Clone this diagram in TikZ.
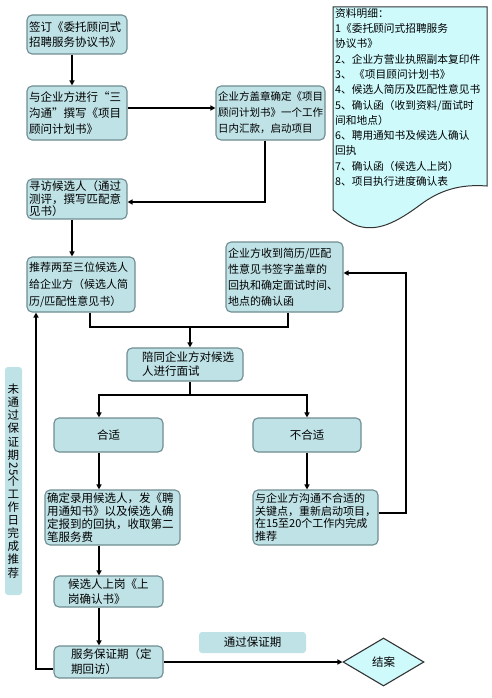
\documentclass[tikz,border=0pt]{standalone}
\usepackage{fontspec}
\usepackage{graphicx}
\newfontfamily\cjk{Noto Sans CJK SC}
\newcommand\myvtxtfont{\cjk\fontsize{11.5}{13.1}\selectfont\lineskiplimit=-30pt\relax\lineskip=0pt\relax}
\usetikzlibrary{arrows.meta,shapes.geometric}
\definecolor{boxfill}{HTML}{BFE2E6}
\definecolor{boxline}{HTML}{6E8C91}
\definecolor{docfill}{HTML}{CEFAFC}
\definecolor{dialine}{HTML}{333333}
\begin{document}
\begin{tikzpicture}[x=1pt,y=-1pt,
 box/.style={draw=boxline, fill=boxfill, rounded corners=5pt, line width=1.1pt, inner sep=2pt, align=left},
 tag/.style={fill=boxfill, rounded corners=3pt, inner sep=0pt, align=center},
 arr/.style={line width=1.6pt, -{Triangle[length=5pt,width=5pt]}},
 ln/.style={line width=1.6pt}]
\useasboundingbox (0,0) rectangle (492,698);

% boxes
\node[box, text width=96pt, minimum height=39pt, font=\cjk\fontsize{11.5}{15}\selectfont] (A) at (77,34.5) {签订《委托顾问式\\招聘服务协议书》};
\node[box, text width=96pt, minimum height=54pt, font=\cjk\fontsize{11.5}{16}\selectfont] (B) at (77,113) {与企业方进行“三\\沟通”撰写《项目\\顾问计划书》};
\node[box, text width=105pt, minimum height=54pt, font=\cjk\fontsize{10.5}{16}\selectfont] (C) at (270.5,113) {企业方盖章确定《项目\\顾问计划书》一个工作\\日内汇款，启动项目};
\node[box, text width=96pt, minimum height=38pt, font=\cjk\fontsize{11.5}{12.5}\selectfont] (D) at (77,199) {寻访候选人（通过\\测评，撰写匹配意\\见书）};
\node[box, text width=104pt, minimum height=55pt, font=\cjk\fontsize{11}{17}\selectfont] (E) at (81,284.5) {推荐两至三位候选人\\给企业方（候选人简\\历/匹配性意见书）};
\node[box, text width=113pt, minimum height=70pt, font=\cjk\fontsize{11}{16}\selectfont] (F) at (284.5,277) {企业方收到简历/匹配\\性意见书签字盖章的\\回执和确定面试时间、\\地点的确认函};
\node[box, text width=112pt, minimum height=33pt, font=\cjk\fontsize{11.5}{14}\selectfont] (G) at (185,364.5) {\hspace*{13pt}陪同企业方对候选\\\hspace*{13pt}人进行面试};
\node[box, text width=105pt, minimum height=34pt, align=center, font=\cjk\fontsize{11.5}{14}\selectfont] (H) at (108.5,435) {合适};
\node[box, text width=104pt, minimum height=34pt, align=center, font=\cjk\fontsize{11.5}{14}\selectfont] (I) at (307,435) {不合适};
\node[box, text width=131pt, minimum height=55pt, font=\cjk\fontsize{11.5}{13}\selectfont] (J) at (112.5,517.5) {确定录用候选人，发《聘\\用通知书》以及候选人确\\定报到的回执，收取第二\\笔服务费};
\node[box, text width=121pt, minimum height=55pt, font=\cjk\fontsize{11}{12.5}\selectfont] (K) at (315.5,517.5) {与企业方沟通不合适的\\关键点，重新启动项目，\\在15至20个工作内完成\\推荐};
\node[box, text width=105pt, minimum height=31pt, font=\cjk\fontsize{11.5}{15}\selectfont] (L) at (108.5,591.5) {\hspace*{12pt}候选人上岗《上\\\hspace*{12pt}岗确认书》};
\node[box, text width=105pt, minimum height=32pt, font=\cjk\fontsize{11.5}{15}\selectfont] (M) at (108.5,662) {\hspace*{15pt}服务保证期（定\\\hspace*{15pt}期回访）};
\node[diamond, aspect=1.7, draw=dialine, fill=docfill, line width=1.1pt, minimum width=81pt, minimum height=48pt, inner sep=0pt, font=\cjk\fontsize{11.5}{14}\selectfont] (N) at (383.5,662) {结案};

% labels
\node[tag, minimum width=107pt, minimum height=21pt, font=\cjk\fontsize{11.5}{14}\selectfont] (P) at (252.5,642.5) {通过保证期};
\node[tag, minimum width=17pt, minimum height=228pt, font=\myvtxtfont] (Q) at (13.5,481) {未\\通\\过\\保\\证\\期\\\raisebox{-1pt}{\rotatebox[origin=c]{-90}{25}}\\个\\工\\作\\日\\完\\成\\推\\荐};

% document shape
\draw[draw=dialine, fill=docfill, line width=1pt] (333,7) -- (487,7) -- (487,186) .. controls (460,184) and (440,190) .. (420,205) .. controls (397,222) and (378,232) .. (358,226) .. controls (347,222) and (338,214) .. (333,210) -- cycle;
\node[anchor=north west, inner sep=0pt, align=left, font=\cjk\fontsize{10.7}{15.3}\selectfont] (doc) at (335,8) {资料明细：\\1《委托顾问式招聘服务\\协议书》\\2、企业方营业执照副本复印件\\3、 《项目顾问计划书》\\4、候选人简历及匹配性意见书\\5、确认函（收到资料/面试时\\间和地点）\\6、聘用通知书及候选人确认\\回执\\7、确认函（候选人上岗）\\8、项目执行进度确认表};

% connectors
\draw[arr] ([xshift=-5pt]A.south) -- ([xshift=-5pt]B.north);
\draw[arr] ([yshift=5pt]B.east) -- ([yshift=5pt]C.west);
\draw[arr] ([xshift=-5.5pt]C.south) |- ([yshift=-3pt]D.east);
\draw[arr] ([xshift=-5pt]D.south) -- ([xshift=-9pt]E.north);
\coordinate (j1) at (190,327);
\draw[ln] ([xshift=9pt]E.south) |- (j1);
\draw[ln] ([xshift=3.5pt]F.south) |- (j1);
\draw[arr] (j1) -- (j1 |- G.north);
\coordinate (j2) at (190,395);
\draw[ln] ([xshift=5pt]G.south) -- (j2);
\draw[arr] (j2) -| ([xshift=-9.5pt]H.north);
\draw[arr] (j2) -| (I.north);
\draw[arr] ([xshift=-9.5pt]H.south) -- ([xshift=-13.5pt]J.north);
\draw[arr] (I.south) -- ([xshift=-8.5pt]K.north);
\coordinate (r) at (406,273);
\draw[arr] ([yshift=4.5pt]K.east) -| (r) -- ([yshift=4pt]F.east);
\draw[arr] ([xshift=-13.5pt]J.south) -- ([xshift=-9.5pt]L.north);
\draw[arr] ([xshift=-9.5pt]L.south) -- ([xshift=-9.5pt]M.north);
\draw[arr] ([yshift=-7pt]M.west) -| ([xshift=-45pt]E.south);
\draw[arr] (M.east) -- (N.west);
\end{tikzpicture}
\end{document}
